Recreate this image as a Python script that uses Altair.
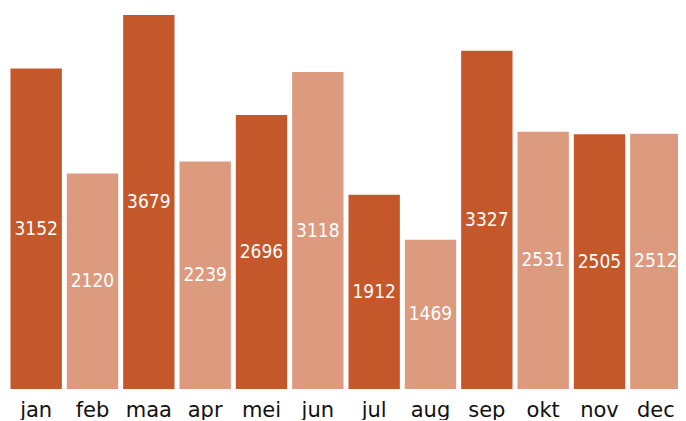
import altair as alt
import pandas as pd

maanden = ["jan", "feb", "maa", "apr", "mei", "jun", "jul", "aug", "sep", "okt", "nov", "dec"]
waarden = [3152, 2120, 3679, 2239, 2696, 3118, 1912, 1469, 3327, 2531, 2505, 2512]
kleuren = ["#c4582b", "#dc9a7f"]

df = pd.DataFrame({
    "maand": maanden,
    "waarde": waarden,
    "groep": ["a" if i % 2 == 0 else "b" for i in range(len(maanden))],
})
df["midden"] = df["waarde"] / 2

x = alt.X("maand:N", sort=maanden,
          scale=alt.Scale(paddingInner=0.088, paddingOuter=0.044, range=[0, 676]),
          axis=alt.Axis(title=None, ticks=False, domain=False, labelAngle=0,
                        labelFontSize=21, labelFont="DejaVu Sans", labelColor="#111111",
                        labelPadding=10))

bars = alt.Chart(df).mark_bar().encode(
    x=x,
    y=alt.Y("waarde:Q", scale=alt.Scale(domain=[0, 3679], nice=False), axis=None),
    color=alt.Color("groep:N", scale=alt.Scale(domain=["a", "b"], range=kleuren), legend=None),
)

labels = alt.Chart(df).mark_text(color="white", fontSize=19, font="DejaVu Sans Condensed",
                                 baseline="middle").encode(
    x=x,
    y=alt.Y("midden:Q", scale=alt.Scale(domain=[0, 3679], nice=False), axis=None),
    text=alt.Text("waarde:Q", format="d"),
)

chart = (bars + labels).properties(
    width=670, height=374,
    autosize=alt.AutoSizeParams(type="none"),
    padding={"left": 0, "top": 7, "right": 0, "bottom": 31},
).configure_view(stroke=None)

chart.save("out.html", embed_options={"renderer": "svg", "actions": False})
